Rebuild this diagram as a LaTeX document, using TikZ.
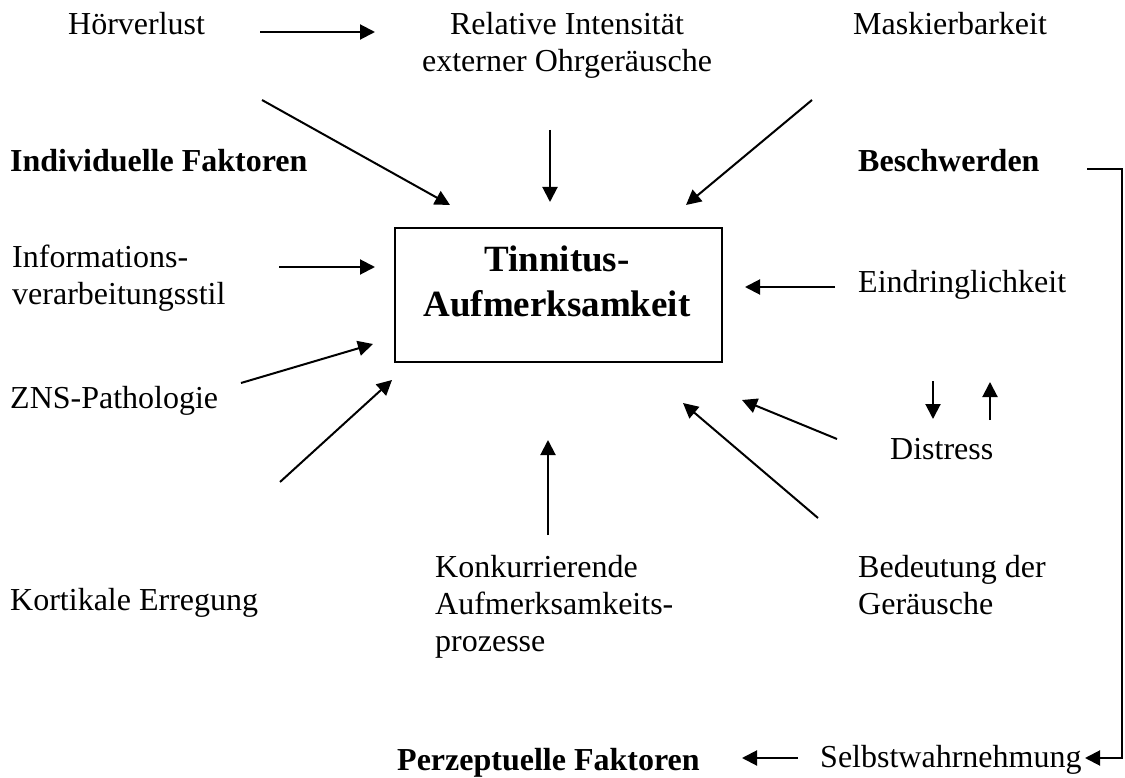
\documentclass[tikz,border=0pt]{standalone}
\usepackage{fontspec}
\setmainfont{Liberation Serif}
\usetikzlibrary{arrows.meta}
\tikzset{
  lbl/.style={font=\fontsize{32}{37}\selectfont, inner sep=0pt, anchor=base west},
  blbl/.style={font=\fontsize{32}{37}\selectfont\bfseries, inner sep=0pt, anchor=base west},
  arr/.style={-{Triangle[length=15pt,width=15pt]}, line width=2pt},
  plain/.style={line width=2pt, line join=miter}
}
\begin{document}
\begin{tikzpicture}[x=1pt,y=-1pt]
\useasboundingbox (0,0) rectangle (1125,778);
% text nodes
\node[lbl] (hv) at (68,35) {Hörverlust};
\node[lbl, anchor=base] (ri) at (567,35) {\begin{tabular}[t]{@{}c@{}}Relative Intensität\\externer Ohrgeräusche\end{tabular}};
\node[lbl] (mk) at (853,35) {Maskierbarkeit};
\node[blbl] (ind) at (10,172) {Individuelle Faktoren};
\node[blbl] (bes) at (858,172) {Beschwerden};
\node[draw, line width=2pt, minimum width=327pt, minimum height=134pt, inner sep=0pt] (box) at (558.5,295) {};
\node[font=\fontsize{37}{45}\selectfont\bfseries, inner sep=0pt, anchor=base] (tit) at (557,272) {\begin{tabular}[t]{@{}c@{}}Tinnitus-\\Aufmerksamkeit\end{tabular}};
\node[lbl] (info) at (12,268) {\begin{tabular}[t]{@{}l@{}}Informations-\\verarbeitungsstil\end{tabular}};
\node[lbl] (ein) at (858,292) {Eindringlichkeit};
\node[lbl] (zns) at (10,408) {ZNS-Pathologie};
\node[lbl] (dis) at (890,459) {Distress};
\node[lbl] (kor) at (10,610) {Kortikale Erregung};
\node[lbl] (kon) at (435,577) {\begin{tabular}[t]{@{}l@{}}Konkurrierende\\Aufmerksamkeits-\\prozesse\end{tabular}};
\node[lbl] (bed) at (858,577) {\begin{tabular}[t]{@{}l@{}}Bedeutung der\\Geräusche\end{tabular}};
\node[blbl] (per) at (397,770) {Perzeptuelle Faktoren};
\node[lbl] (sel) at (820,767) {Selbstwahrnehmung};
% arrow end points
\coordinate (a1s) at (260,32);  \coordinate (a1e) at (375,32);
\coordinate (a2s) at (262,100); \coordinate (a2e) at (450,205);
\coordinate (a3s) at (550,130); \coordinate (a3e) at (550,202);
\coordinate (a4s) at (812,100); \coordinate (a4e) at (686,205);
\coordinate (a5s) at (279,267); \coordinate (a5e) at (375,267);
\coordinate (a6s) at (835,287); \coordinate (a6e) at (745,287);
\coordinate (a7s) at (241,383); \coordinate (a7e) at (373,344);
\coordinate (a8s) at (280,482); \coordinate (a8e) at (392,380);
\coordinate (a9s) at (548,535); \coordinate (a9e) at (548,440);
\coordinate (a10s) at (818,518); \coordinate (a10e) at (683,403);
\coordinate (a11s) at (837,439); \coordinate (a11e) at (742,400);
\coordinate (a12s) at (933,381); \coordinate (a12e) at (933,419);
\coordinate (a13s) at (990,420); \coordinate (a13e) at (990,382);
\coordinate (a14s) at (798,758); \coordinate (a14e) at (742,758);
\coordinate (b1) at (1087,169); \coordinate (b2) at (1122,169);
\coordinate (b3) at (1122,758); \coordinate (b4) at (1085,758);
% connectors
\foreach \i in {1,...,14} { \draw[arr] (a\i s) -- (a\i e); }
\draw[arr, line join=miter] (b1) -- (b2) -- (b3) -- (b4);
\end{tikzpicture}
\end{document}
